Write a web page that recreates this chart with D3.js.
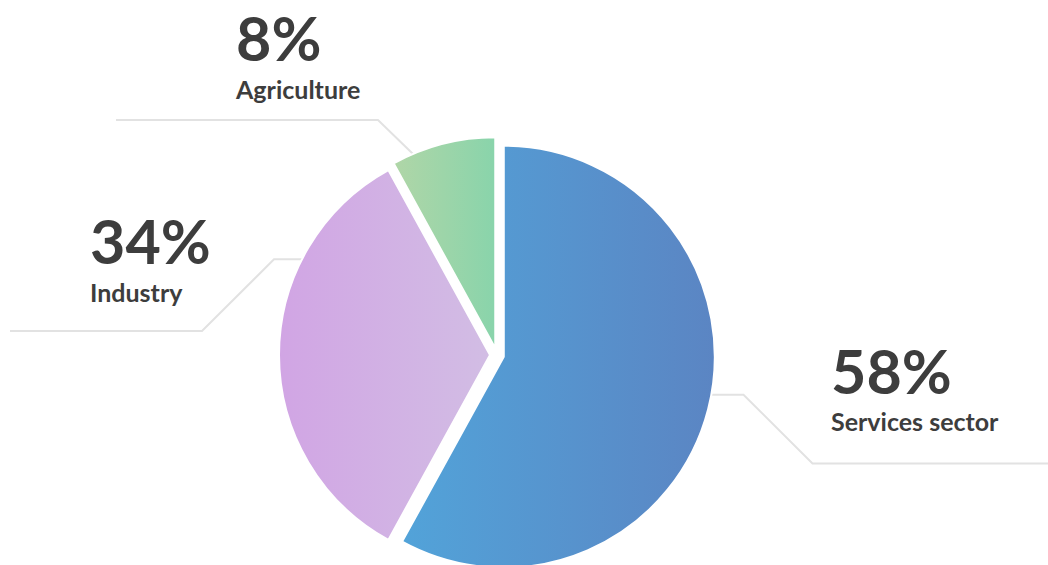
<!DOCTYPE html>
<html>
<head>
<meta charset="utf-8">
<script src="https://cdn.jsdelivr.net/npm/d3@7"></script>
<style>
  html, body { margin: 0; padding: 0; background: #fff; }
  svg { display: block; }
  .pct { font-family: Lato, "Open Sans", sans-serif; font-weight: 700; fill: #3d3d3d; }
  .name { font-family: Lato, "Open Sans", sans-serif; font-weight: 700; fill: #3d3d3d; }
</style>
</head>
<body>
<svg id="chart" width="1048" height="565"></svg>
<script>
// Employment share by sector
const sectors = ["Services sector", "Industry", "Agriculture"];
const shares = [58, 34, 8];
const shareLabels = ["58%", "34%", "8%"];
const gradientStops = [
  ["#52a3d9", "#5b85c3"],
  ["#d1a5e4", "#d2bde4"],
  ["#b0d6a7", "#89d4ab"]
];

const W = 1048, H = 565;
const cx = 497, cy = 355, R = 211, explode = 7;

const svg = d3.select("#chart");
const defs = svg.append("defs");

gradientStops.forEach((s, i) => {
  const g = defs.append("linearGradient")
    .attr("id", "grad" + i)
    .attr("x1", "0%").attr("x2", "100%").attr("y1", "0%").attr("y2", "0%");
  g.append("stop").attr("offset", "0%").attr("stop-color", s[0]);
  g.append("stop").attr("offset", "100%").attr("stop-color", s[1]);
});

const pie = d3.pie().sort(null).value(d => d).startAngle(0).endAngle(2 * Math.PI);
const arcs = pie(shares);
const arc = d3.arc().innerRadius(0).outerRadius(R);

// Leader lines: a short run into the slice, a 45° diagonal, then a horizontal tail.
const leaders = [
  { from: [690, 394.7], knee: [743.5, 394.7], diag: [812.5, 463.5], to: [1048, 463.5] },
  { from: [330, 259.3], knee: [274, 259.3], diag: [202, 331], to: [10, 331] },
  { from: [440, 181], knee: [412, 153], diag: [378, 120], to: [116, 120] }
];

const lineG = svg.append("g");
leaders.forEach(l => {
  lineG.append("path")
    .attr("d", d3.line()([l.from, l.knee, l.diag, l.to]))
    .attr("fill", "none")
    .attr("stroke", "#e2e2e2")
    .attr("stroke-width", 2);
});

// Slices, each pushed out along its bisector
const pieG = svg.append("g").attr("transform", `translate(${cx},${cy})`);
pieG.selectAll("path.slice")
  .data(arcs)
  .join("path")
  .attr("class", "slice")
  .attr("d", arc)
  .attr("transform", d => {
    const a = (d.startAngle + d.endAngle) / 2;
    return `translate(${explode * Math.sin(a)},${-explode * Math.cos(a)})`;
  })
  .attr("fill", (d, i) => `url(#grad${i})`)
  .attr("stroke", "#fff")
  .attr("stroke-width", 2)
  .attr("stroke-linejoin", "round");

// Value and category labels
const labelPos = [
  { x: 831, pctY: 394, nameY: 431 },
  { x: 90, pctY: 264, nameY: 302 },
  { x: 236, pctY: 61, nameY: 99 }
];

const labG = svg.append("g");
sectors.forEach((name, i) => {
  const p = labelPos[i];
  labG.append("text").attr("class", "pct")
    .attr("x", p.x).attr("y", p.pctY)
    .attr("font-size", 61)
    .text(shareLabels[i]);
  labG.append("text").attr("class", "name")
    .attr("x", p.x).attr("y", p.nameY)
    .attr("font-size", 25)
    .text(name);
});
</script>
</body>
</html>
